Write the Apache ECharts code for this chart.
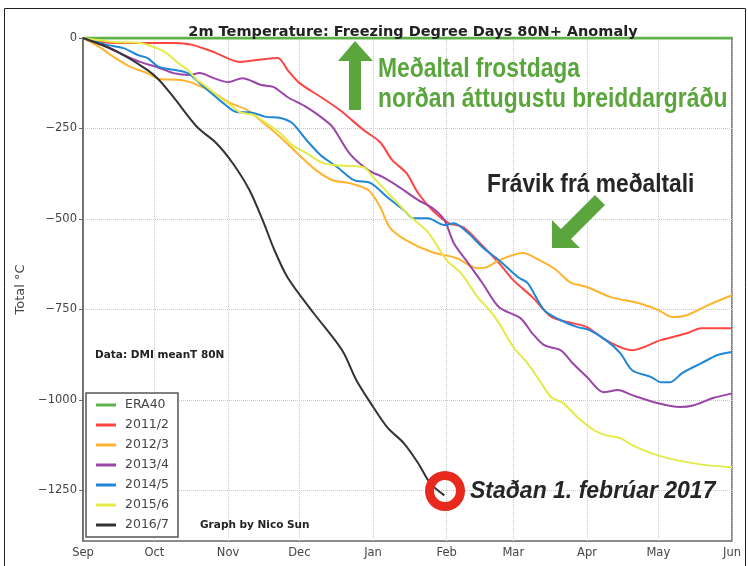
<!DOCTYPE html>
<html lang="en">
<head>
    <meta charset="UTF-8">
    <title>Freezing Degree Days 80N+</title>
    <style>
        html,
        body {
            margin: 0;
            padding: 0;
            width: 100%;
            height: 100%;
            background: #fff;
        }

        #canvas {
            width: 748px;
            height: 566px;
        }
    </style>
</head>
<body>
<div id="canvas"></div>
<script src="https://cdn.jsdelivr.net/npm/echarts@6.0.0/dist/echarts.min.js"></script>
<script>
    // values: [days since 1 Sep, total °C anomaly]
    const era40 = [[0, 0], [273, 0]]

    const s2011 = [[0, 0], [13, -14], [27, -14], [38, -14], [46, -19], [55, -39], [66, -66], [73, -61],
        [82, -55], [86, -88], [91, -124], [100, -163], [108, -199], [118, -254], [125, -288], [130, -337],
        [136, -373], [141, -429], [147, -476], [154, -512], [160, -523], [167, -567], [175, -622],
        [181, -669], [189, -716], [197, -771], [204, -785], [212, -799], [220, -835], [231, -863],
        [243, -835], [254, -816], [260, -802], [273, -802]]

    const s2012 = [[0, 0], [7, -25], [13, -53], [20, -80], [27, -97], [32, -113], [41, -116], [46, -124],
        [55, -152], [62, -180], [69, -199], [76, -235], [83, -274], [91, -324], [98, -365], [105, -393],
        [112, -401], [120, -420], [125, -467], [129, -523], [136, -559], [147, -592], [157, -608],
        [166, -636], [170, -633], [175, -614], [185, -594], [192, -614], [199, -641], [205, -675],
        [212, -688], [222, -716], [234, -733], [242, -752], [248, -771], [254, -766], [263, -738],
        [273, -711]]

    const s2013 = [[0, 0], [10, -25], [17, -47], [24, -66], [31, -80], [38, -97], [45, -102], [49, -97],
        [55, -111], [61, -122], [67, -111], [75, -130], [80, -135], [86, -163], [94, -191], [100, -218],
        [105, -246], [112, -318], [120, -365], [126, -384], [133, -412], [141, -448], [147, -470],
        [152, -503], [156, -567], [162, -622], [168, -677], [175, -744], [184, -774], [189, -816],
        [194, -849], [201, -863], [206, -899], [212, -937], [219, -979], [225, -973], [231, -987],
        [240, -1006], [251, -1020], [257, -1015], [265, -995], [273, -982]]

    const s2014 = [[0, 0], [10, -19], [17, -28], [23, -47], [27, -55], [32, -80], [38, -88], [44, -97],
        [49, -124], [55, -158], [59, -180], [65, -205], [70, -205], [77, -218], [83, -221], [88, -235],
        [94, -282], [100, -324], [107, -357], [114, -393], [121, -401], [128, -440], [135, -476],
        [139, -498], [145, -498], [152, -517], [156, -512], [162, -539], [168, -578], [175, -614],
        [183, -661], [187, -677], [194, -752], [201, -780], [208, -799], [213, -807], [220, -835],
        [226, -871], [231, -918], [239, -937], [243, -951], [247, -951], [252, -926], [260, -899],
        [267, -876], [273, -868]]

    const s2015 = [[0, 0], [13, -11], [24, -14], [31, -28], [35, -41], [40, -69], [44, -88], [48, -116],
        [52, -135], [58, -166], [62, -185], [66, -205], [72, -213], [77, -235], [83, -263], [88, -296],
        [94, -318], [100, -343], [105, -351], [118, -357], [122, -384], [130, -440], [138, -495],
        [145, -536], [153, -614], [159, -650], [166, -716], [171, -752], [175, -788], [181, -854],
        [187, -899], [192, -946], [197, -993], [202, -1009], [208, -1048], [215, -1084], [220, -1098],
        [226, -1106], [231, -1125], [239, -1147], [246, -1161], [254, -1172], [263, -1181], [273, -1186]]

    const s2016 = [[0, 0], [13, -33], [27, -88], [32, -116], [38, -163], [48, -246], [56, -290], [63, -346],
        [70, -420], [76, -510], [80, -578], [86, -661], [97, -760], [109, -863], [115, -946], [121, -1009],
        [128, -1076], [135, -1120], [141, -1175], [146, -1230], [152, -1264]]

    const seriesNames = ['ERA40', '2011/2', '2012/3', '2013/4', '2014/5', '2015/6', '2016/7']
    const seriesData = [era40, s2011, s2012, s2013, s2014, s2015, s2016]
    const colors = ['#5fb14a', '#ff4444', '#ffb32e', '#9b45a9', '#1f87d6', '#e4ea48', '#333333']

    const monthNames = ['Jan', 'Feb', 'Mar', 'Apr', 'May', 'Jun', 'Jul', 'Aug', 'Sep', 'Oct', 'Nov', 'Dec']
    const yTicks = [0, -250, -500, -750, -1000, -1250]

    function toTime(day) {
        return new Date(2016, 8, 1 + day).getTime()
    }

    const series = seriesData.map((data, i) => ({
        name: seriesNames[i],
        type: 'line',
        data: data.map(p => [toTime(p[0]), p[1]]),
        showSymbol: false,
        smooth: 0.3,
        lineStyle: {width: i === 0 ? 3 : 2},
        z: 2 + i
    }))

    const narrow = '"Liberation Sans", Arial, sans-serif'
    const green = '#5aa63c'

    const chart = echarts.init(document.getElementById('canvas'))

    chart.setOption({
        animation: false,
        color: colors,
        title: {
            text: '2m Temperature: Freezing Degree Days 80N+ Anomaly',
            left: 408,
            top: 20,
            textAlign: 'center',
            textStyle: {
                fontFamily: 'DejaVu Sans',
                fontSize: 14.5,
                fontWeight: 'bold',
                color: '#222'
            }
        },
        grid: {
            left: 83,
            right: 16,
            top: 38,
            bottom: 25,
            show: true,
            borderColor: '#666',
            borderWidth: 1.5
        },
        legend: {
            orient: 'vertical',
            left: 86,
            top: 393,
            data: seriesNames,
            icon: 'rect',
            itemWidth: 20,
            itemHeight: 3,
            itemGap: 6,
            padding: [5, 9, 5, 10],
            backgroundColor: '#fff',
            borderColor: '#555',
            borderWidth: 1.5,
            textStyle: {
                fontFamily: 'DejaVu Sans',
                fontSize: 12.5,
                color: '#444',
                lineHeight: 14,
                padding: [0, 0, 0, 4]
            }
        },
        xAxis: {
            type: 'time',
            min: toTime(0),
            max: toTime(273),
            splitNumber: 9,
            minInterval: 28 * 86400000,
            maxInterval: 31 * 86400000,
            axisLine: {lineStyle: {color: '#666', width: 1.5}},
            axisTick: {show: false},
            axisLabel: {
                fontFamily: 'DejaVu Sans',
                fontSize: 11.5,
                color: '#444',
                margin: 6,
                showMinLabel: true,
                showMaxLabel: true,
                formatter: v => monthNames[new Date(v).getMonth()]
            },
            splitLine: {show: true, lineStyle: {color: '#c8c8c8', type: 'dotted', width: 1}}
        },
        yAxis: {
            type: 'value',
            min: -1390,
            max: 0,
            name: 'Total °C',
            nameLocation: 'middle',
            nameGap: 55,
            nameTextStyle: {fontFamily: 'DejaVu Sans', fontSize: 13, color: '#444'},
            axisLine: {show: true, lineStyle: {color: '#666', width: 1.5}},
            axisTick: {show: true, length: 4, lineStyle: {color: '#666'}, customValues: yTicks},
            axisLabel: {
                fontFamily: 'DejaVu Sans',
                fontSize: 11.5,
                color: '#444',
                margin: 6,
                customValues: yTicks,
                formatter: v => String(v).replace('-', '\u2212')
            },
            splitLine: {show: true, lineStyle: {color: '#c8c8c8', type: 'dotted', width: 1}}
        },
        graphic: [
            {type: 'rect', shape: {x: 4.5, y: 8.5, width: 741, height: 570}, style: {fill: 'none', stroke: '#222', lineWidth: 1}, silent: true},
            {type: 'polygon', shape: {points: [[355, 41], [373, 61], [361, 61], [361, 110], [349, 110], [349, 61], [338, 61]]}, style: {fill: green}, z: 20},
            {type: 'text', x: 378, y: 70, scaleX: 0.847, style: {text: 'Meðaltal frostdaga', font: 'bold 27px ' + narrow, fill: green, textVerticalAlign: 'middle'}, z: 20},
            {type: 'text', x: 378, y: 100, scaleX: 0.847, style: {text: 'norðan áttugustu breiddargráðu', font: 'bold 27px ' + narrow, fill: green, textVerticalAlign: 'middle'}, z: 20},
            {type: 'text', x: 487, y: 185, scaleX: 0.91, style: {text: 'Frávik frá meðaltali', font: 'bold 25px ' + narrow, fill: '#262626', textVerticalAlign: 'middle'}, z: 20},
            {type: 'polygon', shape: {points: [[552, 248], [552, 220], [561, 229], [595, 195], [605, 205], [571, 239], [580, 248]]}, style: {fill: green}, z: 20},
            {type: 'ring', shape: {cx: 445, cy: 491, r: 20, r0: 11}, style: {fill: '#e82a1e'}, z: 20},
            {type: 'text', x: 470, y: 492, style: {text: 'Staðan 1. febrúar 2017', font: 'italic bold 23px "Liberation Sans", Arial, sans-serif', fill: '#262626', textVerticalAlign: 'middle'}, z: 20},
            {type: 'text', x: 95, y: 355, style: {text: 'Data: DMI meanT 80N', font: 'bold 10.5px "DejaVu Sans", sans-serif', fill: '#222', textVerticalAlign: 'middle'}, z: 20},
            {type: 'text', x: 200, y: 525, style: {text: 'Graph by Nico Sun', font: 'bold 10.5px "DejaVu Sans", sans-serif', fill: '#222', textVerticalAlign: 'middle'}, z: 20}
        ],
        series
    })
</script>
</body>
</html>
